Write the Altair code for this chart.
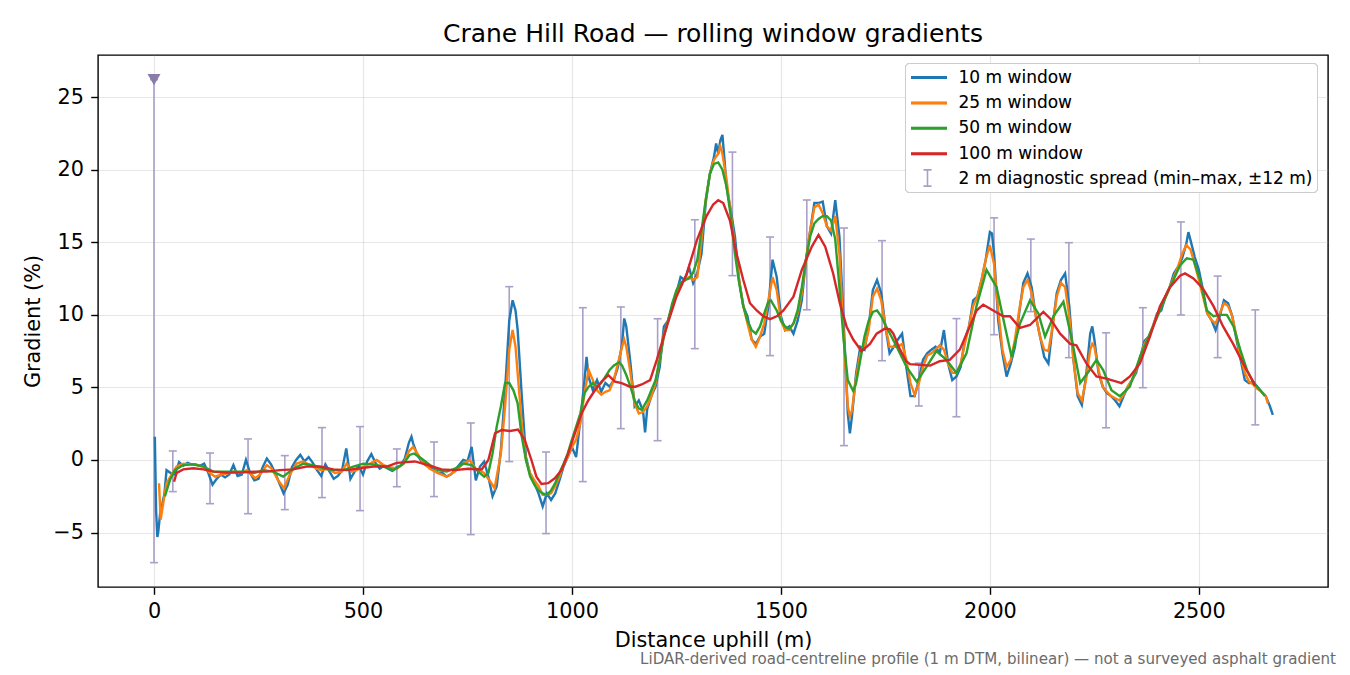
import altair as alt
import pandas as pd

TITLE = "Crane Hill Road — rolling window gradients"
X_TITLE = "Distance uphill (m)"
Y_TITLE = "Gradient (%)"
FOOTNOTE = "LiDAR-derived road-centreline profile (1 m DTM, bilinear) — not a surveyed asphalt gradient"
SERIES = ["10 m window", "25 m window", "50 m window", "100 m window",
          "2 m diagnostic spread (min–max, ±12 m)"]
COLORS = ["#1f77b4", "#ff7f0e", "#2ca02c", "#d62728", "#aa9fc8"]
X_TICKS = [0, 500, 1000, 1500, 2000, 2500]
Y_TICKS = [-5, 0, 5, 10, 15, 20, 25]

blue_x = [2, 5, 8, 10, 15, 20, 25, 30, 40, 50,
          60, 70, 80, 90, 100, 110, 120, 130, 140, 150,
          160, 170, 180, 190, 200, 210, 220, 230, 240, 250,
          260, 270, 280, 290, 300, 310, 320, 330, 340, 350,
          360, 370, 380, 390, 400, 410, 420, 430, 440, 450,
          460, 470, 480, 490, 500, 510, 520, 530, 540, 550,
          560, 570, 580, 590, 600, 610, 616, 620, 630, 640,
          650, 660, 670, 680, 690, 700, 710, 720, 730, 740,
          750, 760, 770, 780, 790, 800, 810, 820, 830, 840,
          850, 858, 865, 870, 880, 890, 900, 910, 920, 930,
          940, 950, 960, 970, 980, 990, 1000, 1010, 1020, 1030,
          1035, 1040, 1050, 1060, 1070, 1080, 1090, 1100, 1110, 1120,
          1125, 1130, 1140, 1150, 1160, 1170, 1175, 1180, 1190, 1200,
          1210, 1220, 1230, 1240, 1250, 1260, 1270, 1280, 1290, 1300,
          1310, 1320, 1330, 1340, 1345, 1350, 1355, 1360, 1365, 1370,
          1380, 1390, 1400, 1410, 1420, 1430, 1440, 1450, 1460, 1470,
          1480, 1490, 1500, 1510, 1520, 1530, 1540, 1550, 1560, 1570,
          1580, 1590, 1600, 1610, 1620, 1630, 1640, 1650, 1660, 1665,
          1670, 1680, 1690, 1700, 1710, 1720, 1730, 1740, 1750, 1760,
          1770, 1780, 1790, 1800, 1810, 1820, 1830, 1840, 1850, 1860,
          1870, 1880, 1890, 1900, 1910, 1920, 1930, 1940, 1950, 1960,
          1970, 1980, 1990, 2000, 2005, 2010, 2020, 2030, 2040, 2050,
          2060, 2070, 2080, 2090, 2100, 2110, 2120, 2130, 2140, 2150,
          2160, 2170, 2180, 2190, 2200, 2210, 2220, 2230, 2240, 2245,
          2250, 2260, 2270, 2280, 2290, 2300, 2310, 2320, 2330, 2340,
          2350, 2360, 2370, 2380, 2390, 2400, 2410, 2420, 2430, 2440,
          2450, 2460, 2470, 2475, 2480, 2490, 2500, 2510, 2520, 2530,
          2540, 2550, 2560, 2570, 2580, 2590, 2600, 2610, 2620, 2630,
          2640, 2650, 2660, 2670, 2677]
blue_y = [1.6, -3.5, -5.3, -5.0, -3.6, -3.0, -2.3, -0.7, -0.9, -1.0,
          -0.15, -0.4, -0.2, -0.3, -0.3, -0.4, -0.25, -0.9, -1.7, -1.3,
          -1.0, -1.2, -1.0, -0.35, -1.1, -1.0, 0.0, -0.9, -1.4, -1.3,
          -0.5, 0.1, -0.3, -0.9, -1.6, -2.3, -1.7, -0.5, 0.0, 0.35,
          -0.1, 0.2, -0.2, -0.7, -1.1, -0.3, -0.8, -1.3, -1.1, -0.7,
          0.8, -1.3, -0.8, -0.4, -1.0, -0.1, 0.4, -0.2, -0.6, -0.4,
          -0.6, -0.75, -0.5, -0.4, 0.1, 1.2, 1.6, 1.15, 0.35, -0.1,
          -0.35, -0.45, -0.7, -0.9, -0.9, -1.15, -1.0, -0.7, -0.35, 0.0,
          -0.1, 0.9, -1.4, -0.45, -0.1, -1.15, -2.5, -1.8, 0.7, 4.8,
          9.6, 11.0, 10.3, 9.0, 4.4, 0.2, -1.0, -1.6, -2.3, -3.2,
          -2.3, -2.75, -2.3, -1.4, -0.45, 0.2, 0.9, 0.2, 2.75, 5.5,
          7.1, 5.7, 4.8, 5.5, 4.7, 5.3, 5.05, 5.5, 6.4, 8.0,
          9.75, 9.2, 6.65, 3.7, 4.1, 3.4, 1.9, 3.5, 4.4, 5.05,
          6.4, 9.2, 9.6, 10.6, 11.5, 12.6, 12.4, 13.3, 12.2, 12.9,
          14.2, 17.7, 19.7, 20.9, 21.8, 21.1, 22.0, 22.4, 20.7, 18.8,
          17.2, 15.4, 12.4, 10.6, 9.9, 8.3, 8.0, 8.5, 8.7, 10.6,
          13.8, 12.6, 9.9, 8.95, 9.2, 8.7, 9.6, 11.0, 13.8, 15.8,
          17.7, 17.7, 17.8, 16.1, 15.6, 17.9, 15.4, 9.6, 3.2, 1.84,
          3.0, 6.0, 7.8, 7.6, 9.2, 11.7, 12.4, 11.5, 9.2, 7.35,
          7.8, 8.3, 8.7, 6.4, 4.4, 4.4, 5.5, 6.9, 7.35, 7.6,
          7.8, 7.35, 8.95, 6.65, 5.5, 5.75, 6.4, 8.3, 9.2, 11.0,
          11.25, 12.4, 13.8, 15.7, 15.6, 14.2, 9.6, 7.35, 5.75, 6.65,
          7.8, 10.1, 12.2, 12.85, 11.9, 9.9, 8.5, 7.1, 6.65, 9.2,
          11.5, 12.4, 12.85, 10.6, 6.9, 4.4, 3.8, 5.75, 8.7, 9.2,
          8.3, 6.0, 5.05, 4.6, 4.4, 4.1, 3.7, 4.4, 5.05, 5.5,
          6.0, 7.1, 8.2, 8.5, 9.2, 10.1, 10.3, 11.25, 11.9, 12.85,
          13.3, 13.9, 14.9, 15.7, 15.15, 14.0, 13.1, 11.7, 10.1, 9.65,
          8.95, 9.9, 11.0, 10.8, 9.9, 8.3, 6.9, 5.5, 5.3, 5.4,
          5.05, 4.7, 4.4, 3.7, 3.1]

orange_x = [12, 16, 22, 30, 42, 54, 70, 86, 102, 118,
            134, 146, 162, 178, 194, 210, 222, 242, 254, 270,
            282, 297, 311, 325, 341, 357, 373, 389, 401, 417,
            433, 449, 461, 473, 485, 501, 517, 533, 549, 565,
            581, 597, 610, 620, 630, 640, 650, 660, 680, 700,
            720, 740, 755, 770, 790, 805, 815, 830, 840, 850,
            858, 865, 870, 880, 890, 900, 910, 920, 930, 940,
            950, 960, 970, 980, 990, 1000, 1010, 1020, 1030, 1040,
            1050, 1060, 1070, 1080, 1090, 1100, 1110, 1120, 1125, 1130,
            1140, 1150, 1160, 1170, 1180, 1190, 1200, 1210, 1220, 1230,
            1240, 1250, 1260, 1270, 1280, 1290, 1300, 1310, 1320, 1330,
            1340, 1350, 1355, 1360, 1370, 1380, 1390, 1400, 1410, 1420,
            1430, 1440, 1450, 1460, 1470, 1480, 1490, 1500, 1510, 1520,
            1530, 1540, 1550, 1560, 1570, 1580, 1590, 1600, 1610, 1620,
            1630, 1640, 1650, 1660, 1665, 1670, 1680, 1690, 1700, 1710,
            1720, 1730, 1740, 1750, 1760, 1770, 1780, 1790, 1800, 1810,
            1820, 1830, 1840, 1850, 1860, 1870, 1880, 1890, 1900, 1910,
            1920, 1930, 1940, 1950, 1960, 1970, 1980, 1990, 2000, 2010,
            2020, 2030, 2040, 2050, 2060, 2070, 2080, 2090, 2100, 2110,
            2120, 2130, 2140, 2150, 2160, 2170, 2180, 2190, 2200, 2210,
            2220, 2230, 2240, 2245, 2250, 2260, 2270, 2280, 2290, 2300,
            2310, 2320, 2330, 2340, 2350, 2360, 2370, 2380, 2390, 2400,
            2410, 2420, 2430, 2440, 2450, 2460, 2470, 2480, 2490, 2500,
            2510, 2520, 2530, 2540, 2550, 2560, 2570, 2580, 2590, 2600,
            2610, 2620, 2630, 2640, 2650, 2660, 2665]
orange_y = [-1.6, -4.1, -3.0, -1.6, -1.0, -0.45, -0.25, -0.3, -0.35, -0.45,
            -0.9, -1.15, -1.0, -0.9, -0.8, -0.9, -0.7, -1.25, -1.0, -0.35,
            -0.6, -1.4, -1.95, -1.0, -0.25, -0.1, -0.35, -0.6, -0.7, -0.6,
            -0.9, -0.8, -0.25, -0.8, -0.7, -0.45, -0.25, 0.0, -0.35, -0.5,
            -0.6, -0.25, 0.6, 0.9, 0.45, 0.0, -0.35, -0.6, -0.9, -1.15,
            -0.8, -0.25, 0.0, -0.6, -0.9, -1.5, -1.95, 0.45, 3.7, 7.6,
            8.95, 7.8, 6.0, 2.5, 0.0, -0.9, -1.4, -1.8, -2.4, -2.4,
            -2.3, -1.8, -1.15, -0.35, 0.2, 0.9, 1.4, 2.5, 4.6, 6.2,
            5.5, 4.8, 4.5, 4.7, 4.8, 5.5, 6.65, 7.8, 8.3, 7.8,
            6.0, 3.9, 3.2, 3.3, 3.7, 4.4, 5.3, 6.9, 8.7, 9.6,
            10.6, 11.5, 12.2, 12.4, 12.6, 12.4, 12.6, 15.2, 17.9, 19.7,
            20.7, 21.1, 21.6, 21.1, 19.3, 17.0, 14.7, 12.4, 10.6, 9.4,
            8.3, 7.8, 8.5, 9.4, 11.0, 12.6, 11.7, 9.6, 8.95, 8.95,
            9.4, 10.1, 11.5, 13.8, 15.8, 17.4, 17.6, 17.0, 16.1, 15.8,
            16.8, 14.2, 8.7, 3.7, 3.0, 3.4, 5.7, 7.35, 7.8, 8.95,
            11.25, 11.8, 11.0, 9.2, 7.8, 7.8, 7.8, 8.0, 6.9, 5.3,
            4.5, 5.3, 6.4, 7.2, 7.35, 7.6, 7.9, 7.6, 6.65, 6.0,
            6.0, 6.65, 8.0, 9.2, 10.6, 11.25, 12.4, 13.8, 14.8, 13.5,
            10.3, 7.6, 6.4, 6.9, 8.3, 10.3, 11.9, 12.4, 11.5, 9.9,
            8.5, 7.6, 7.5, 9.2, 11.25, 12.2, 11.9, 9.9, 6.9, 4.6,
            4.1, 5.5, 7.6, 8.0, 7.8, 6.2, 5.05, 4.7, 4.4, 4.25,
            4.1, 4.5, 5.05, 5.5, 6.2, 7.1, 8.0, 8.5, 9.2, 10.0,
            10.6, 11.25, 11.9, 12.6, 13.3, 14.2, 14.8, 14.5, 13.5, 12.4,
            11.25, 10.1, 9.65, 9.4, 10.1, 10.8, 10.6, 9.9, 8.5, 7.1,
            6.0, 5.4, 5.2, 4.9, 4.7, 4.4, 3.9]

green_x = [26, 38, 50, 70, 94, 118, 142, 166, 190, 214,
           238, 262, 285, 309, 333, 357, 381, 405, 429, 453,
           477, 501, 525, 549, 573, 597, 612, 622, 640, 660,
           680, 700, 720, 740, 760, 780, 790, 800, 810, 820,
           830, 840, 850, 860, 870, 880, 890, 900, 910, 920,
           930, 940, 950, 960, 970, 980, 990, 1000, 1010, 1020,
           1030, 1040, 1050, 1060, 1070, 1080, 1090, 1100, 1113, 1120,
           1130, 1140, 1150, 1160, 1167, 1180, 1190, 1200, 1210, 1220,
           1230, 1240, 1250, 1260, 1270, 1280, 1290, 1300, 1310, 1320,
           1330, 1340, 1350, 1360, 1370, 1380, 1390, 1400, 1410, 1420,
           1430, 1440, 1450, 1460, 1470, 1476, 1490, 1500, 1510, 1520,
           1530, 1540, 1550, 1560, 1570, 1580, 1590, 1600, 1610, 1620,
           1630, 1640, 1650, 1660, 1673, 1680, 1690, 1700, 1710, 1720,
           1730, 1740, 1750, 1761, 1777, 1801, 1825, 1848, 1872, 1896,
           1920, 1944, 1968, 1992, 2016, 2036, 2052, 2072, 2096, 2116,
           2132, 2152, 2176, 2196, 2216, 2239, 2255, 2271, 2291, 2311,
           2335, 2359, 2383, 2407, 2431, 2455, 2471, 2487, 2503, 2519,
           2535, 2551, 2567, 2583, 2599, 2615, 2631, 2647, 2658]
green_y = [-2.5, -1.4, -0.7, -0.35, -0.3, -0.45, -0.8, -0.8, -0.8, -0.8,
           -0.9, -0.7, -0.8, -1.15, -0.6, -0.25, -0.35, -0.6, -0.7, -0.7,
           -0.45, -0.25, -0.3, -0.45, -0.7, -0.25, 0.35, 0.45, 0.1, -0.35,
           -0.7, -0.8, -0.6, -0.25, -0.35, -0.9, -1.15, -0.9, 0.45, 2.3,
           3.7, 5.3, 5.3, 4.8, 3.9, 1.6, 0.0, -1.15, -1.7, -2.1,
           -2.3, -2.4, -2.1, -1.6, -0.9, -0.25, 0.45, 1.4, 2.3, 3.2,
           4.6, 5.05, 5.3, 5.05, 5.3, 5.75, 6.2, 6.5, 6.75, 6.5,
           5.85, 5.05, 4.1, 3.55, 3.45, 4.1, 4.8, 5.5, 6.9, 8.5,
           9.6, 10.8, 11.7, 12.2, 12.4, 12.5, 12.9, 13.8, 15.8, 17.9,
           19.7, 20.4, 20.5, 20.0, 18.8, 16.8, 14.2, 12.2, 10.6, 9.6,
           8.95, 8.7, 9.2, 10.1, 10.9, 11.0, 10.3, 9.6, 9.2, 9.05,
           9.4, 10.3, 11.9, 13.8, 15.4, 16.3, 16.6, 16.8, 16.8, 16.5,
           15.2, 11.9, 8.3, 5.5, 4.75, 5.3, 6.9, 8.5, 9.6, 10.2,
           10.3, 9.9, 9.3, 8.7, 7.8, 6.4, 5.4, 6.4, 7.5, 6.9,
           6.0, 7.35, 10.6, 13.1, 11.9, 9.2, 7.1, 9.4, 11.0, 10.1,
           8.5, 9.9, 10.9, 8.3, 5.3, 6.2, 6.9, 6.2, 4.8, 4.4,
           5.05, 7.1, 8.7, 10.3, 11.9, 13.4, 13.9, 13.8, 12.4, 10.3,
           9.9, 10.0, 10.0, 9.2, 7.6, 6.2, 5.3, 4.8, 4.4]

red_x = [48, 54, 70, 94, 118, 142, 174, 206, 238, 270,
         301, 333, 365, 397, 429, 461, 493, 525, 557, 581,
         604, 624, 656, 688, 720, 752, 784, 800, 816, 832,
         852, 871, 887, 903, 915, 927, 943, 959, 975, 991,
         1007, 1023, 1039, 1055, 1071, 1087, 1103, 1119, 1139, 1152,
         1167, 1187, 1203, 1227, 1250, 1275, 1299, 1322, 1338, 1350,
         1362, 1378, 1394, 1410, 1426, 1442, 1458, 1474, 1490, 1506,
         1530, 1550, 1574, 1590, 1606, 1625, 1641, 1657, 1673, 1693,
         1713, 1729, 1749, 1761, 1769, 1785, 1800, 1809, 1833, 1857,
         1880, 1904, 1928, 1952, 1968, 1984, 2008, 2032, 2048, 2072,
         2096, 2112, 2128, 2144, 2168, 2192, 2207, 2231, 2255, 2279,
         2303, 2315, 2335, 2359, 2383, 2407, 2431, 2455, 2467, 2487,
         2510, 2535, 2558, 2582, 2598, 2614, 2630, 2634]
red_y = [-1.5, -0.9, -0.65, -0.57, -0.65, -0.8, -0.87, -0.87, -0.8, -0.8,
         -0.7, -0.65, -0.45, -0.45, -0.65, -0.7, -0.57, -0.45, -0.45, -0.2,
         -0.15, -0.1, -0.35, -0.65, -0.7, -0.6, -0.65, 0.0, 1.84, 2.07,
         2.0, 2.1, 1.4, 0.0, -1.15, -1.65, -1.6, -1.26, -0.7, 0.45,
         1.84, 3.2, 4.1, 4.8, 5.4, 5.85, 5.4, 5.3, 5.05, 5.05,
         5.2, 5.5, 6.9, 9.2, 11.25, 12.85, 15.15, 16.8, 17.6, 17.9,
         17.7, 16.5, 14.2, 12.4, 10.8, 10.3, 9.9, 9.7, 9.9, 10.3,
         11.25, 13.1, 14.7, 15.5, 14.7, 12.85, 10.8, 9.2, 8.3, 7.5,
         8.0, 8.7, 9.05, 9.0, 8.7, 7.6, 6.8, 6.6, 6.55, 6.5,
         6.8, 6.9, 7.6, 9.2, 10.3, 10.7, 10.3, 9.9, 9.9, 9.1,
         9.3, 9.75, 10.2, 9.75, 8.7, 8.0, 7.9, 6.65, 5.75, 5.6,
         5.4, 5.3, 5.75, 6.65, 8.5, 10.6, 11.9, 12.7, 12.85, 12.5,
         11.8, 10.6, 9.2, 8.0, 7.1, 6.2, 5.4, 5.1]

bar_x = [0, 45, 134, 225, 313, 402, 493, 581, 670, 758,
         850, 938, 1026, 1117, 1205, 1294, 1384, 1474, 1562, 1651,
         1742, 1830, 1920, 2010, 2098, 2189, 2278, 2366, 2457, 2545, 2635]
bar_lo = [-7.07, -2.18, -3.01, -3.70, -3.42, -2.59, -3.49, -1.84, -2.52, -5.14,
          -0.11, -5.07, -1.49, 2.16, 1.33, 7.67, 12.70, 7.19, 10.35, 0.99,
          6.84, 3.72, 2.98, 8.63, 10.22, 7.05, 2.22, 4.98, 9.99, 7.05, 2.42]
bar_hi = [26.2, 0.62, 0.48, 1.45, 0.30, 2.23, 2.30, 0.76, 1.24, 2.55,
          11.94, 0.55, 10.49, 10.54, 9.73, 16.55, 21.21, 15.36, 17.91, 15.98,
          15.11, 6.67, 9.74, 16.68, 15.22, 14.97, 8.76, 10.49, 16.40, 12.67, 10.34]
clip_x = [0]
clip_y = [26.2]

FONT = "DejaVu Sans"
W, H = 1230, 532
BAR_COLOR = COLORS[4]
I_PATH = "M0,-0.9L0,0.9M-0.45,-0.9L0.45,-0.9M-0.45,0.9L0.45,0.9"

lines = pd.concat([
    pd.DataFrame({"d": blue_x, "g": blue_y, "series": SERIES[0]}),
    pd.DataFrame({"d": orange_x, "g": orange_y, "series": SERIES[1]}),
    pd.DataFrame({"d": green_x, "g": green_y, "series": SERIES[2]}),
    pd.DataFrame({"d": red_x, "g": red_y, "series": SERIES[3]}),
])
bars = pd.DataFrame({"d": bar_x, "lo": bar_lo, "hi": bar_hi, "series": SERIES[4]})
clip = pd.DataFrame({"d": clip_x, "g": clip_y})
note = pd.DataFrame({"t": [FOOTNOTE]})

xscale = alt.Scale(domain=[-134, 2809], nice=False, zero=False)
yscale = alt.Scale(domain=[-8.75, 27.9], nice=False, zero=False)
xaxis = alt.Axis(values=X_TICKS, format="d", title=X_TITLE, grid=True,
                 titleX=W / 2, titleY=53, titleBaseline="middle", titleAlign="center")
yaxis = alt.Axis(values=Y_TICKS, format="d", title=Y_TITLE, grid=True,
                 titleX=-65, titleY=H / 2, titleBaseline="middle", titleAlign="center",
                 titleAngle=270)
X = alt.X("d:Q", scale=xscale, axis=xaxis)
Y = alt.Y("g:Q", scale=yscale, axis=yaxis)

legend_main = alt.Legend(
    title=None, orient="none", legendX=807, legendY=8, direction="vertical",
    labelFont=FONT, labelFontSize=17.0, labelColor="#000000", labelLimit=600,
    symbolType="M-2,0L2,0", symbolSize=324, symbolStrokeWidth=3,
    padding=4, rowPadding=6.4, labelOffset=19, symbolOffset=9.5,
    fillColor="rgba(255,255,255,0.8)", strokeColor="#cccccc", cornerRadius=4,
    zindex=1,
)
C = alt.Color("series:N",
              scale=alt.Scale(domain=SERIES, range=COLORS[:4] + ["rgba(0,0,0,0)"]),
              legend=legend_main)
legend_bar = alt.Legend(
    title=None, orient="none", legendX=810, legendY=113, direction="vertical",
    labelExpr="''", labelFontSize=1, symbolType=I_PATH, symbolSize=324,
    symbolStrokeColor=BAR_COLOR, symbolStrokeWidth=1.6, symbolFillColor="rgba(0,0,0,0)",
    padding=0, symbolOffset=9.5, zindex=5,
)
SW = alt.StrokeWidth("series:O",
                     scale=alt.Scale(type="ordinal", domain=[SERIES[4]], range=[1.6]),
                     legend=legend_bar)

rules = alt.Chart(bars).mark_rule(color=BAR_COLOR).encode(
    x=X, y=alt.Y("lo:Q", scale=yscale, axis=yaxis), y2=alt.Y2("hi:Q"), strokeWidth=SW)
caps = alt.Chart(bars).transform_fold(["lo", "hi"], as_=["end", "g"]).mark_tick(
    orient="horizontal", size=8, thickness=1.6, color=BAR_COLOR, opacity=1).encode(x=X, y=Y)
marker = alt.Chart(clip).mark_point(shape="triangle-down", filled=True, size=170,
                                    color="#8a7bab", opacity=1).encode(x=X, y=Y)
line_layers = [
    alt.Chart(lines[lines.series == s]).mark_line(strokeWidth=2.4).encode(x=X, y=Y, color=C)
    for s in SERIES[:4]
]
foot = alt.Chart(note).mark_text(align="right", baseline="alphabetic", font=FONT,
                                 fontSize=15.1, color="#6b6b6b").encode(
    text="t:N", x=alt.value(1238), y=alt.value(609))

chart = alt.layer(rules, caps, marker, *line_layers, foot).properties(
    width=W, height=H,
    background="white",
    title=alt.TitleParams(TITLE, font=FONT, fontSize=25, fontWeight="normal",
                          color="#000000", anchor="middle", offset=8),
    autosize=alt.AutoSizeParams(type="none"),
    padding={"left": 90, "top": 47, "right": 14, "bottom": 80},
).resolve_legend(color="independent", strokeWidth="independent").configure_view(
    stroke="#000000", strokeWidth=1.4).configure_axis(
    labelFont=FONT, titleFont=FONT, labelFontSize=20.8, titleFontSize=20.8,
    labelColor="#000000", titleColor="#000000", titleFontWeight="normal",
    tickColor="#000000", tickSize=7.3, tickWidth=1.4, labelPadding=7.3,
    domain=False, gridColor="#b0b0b0", gridOpacity=0.3, gridWidth=1.2,
)

chart.save("out.html", embed_options={"renderer": "svg", "actions": False})
